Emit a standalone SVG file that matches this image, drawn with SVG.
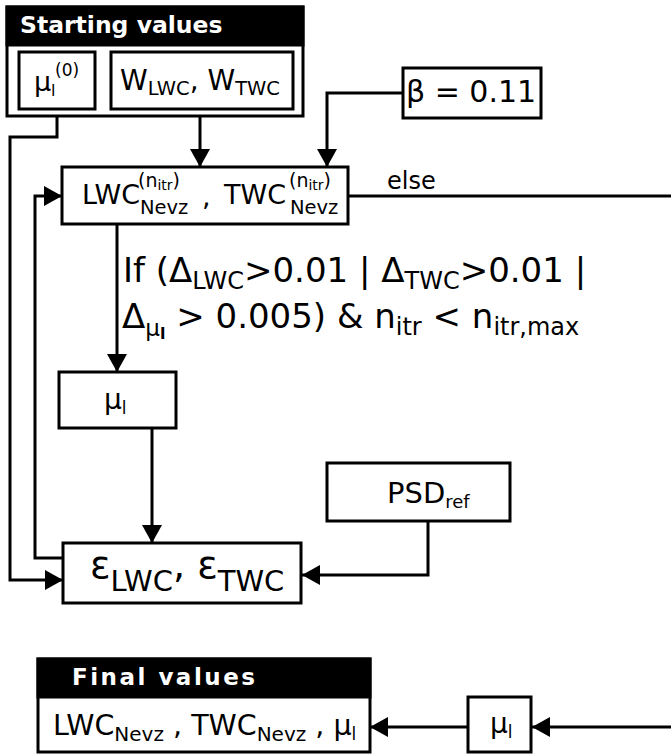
<svg xmlns="http://www.w3.org/2000/svg" width="671" height="755" viewBox="0 0 671 755">
<defs>
<style>
text{font-family:"DejaVu Sans","Liberation Sans",sans-serif;fill:#000}
.box{fill:#fff;stroke:#000;stroke-width:3}
.hdr{fill:#000;stroke:#000;stroke-width:3}
.ht{fill:#fff;font-weight:bold}
.ln{fill:none;stroke:#000;stroke-width:3}
</style>
<marker id="ah" markerUnits="userSpaceOnUse" markerWidth="18" markerHeight="20" refX="18" refY="10" orient="auto">
<path d="M0,0 L18,10 L0,20 z" fill="#000"/>
</marker>
</defs>
<rect width="671" height="755" fill="#fff"/>

<g id="connectors">
<path class="ln" d="M200,116 V167" marker-end="url(#ah)"/>
<path class="ln" d="M403,93 H327 V167" marker-end="url(#ah)"/>
<path class="ln" d="M117,224 V372" marker-end="url(#ah)"/>
<path class="ln" d="M152,428 V543" marker-end="url(#ah)"/>
<path class="ln" d="M428,521 V575 H302" marker-end="url(#ah)"/>
<path class="ln" d="M57,116 V137 H10 V580 H63" marker-end="url(#ah)"/>
<path class="ln" d="M63,558 H35 V196 H62" marker-end="url(#ah)"/>
<path class="ln" d="M348,196 H671"/>
<path class="ln" d="M671,727 H532" marker-end="url(#ah)"/>
<path class="ln" d="M468,727 H370" marker-end="url(#ah)"/>
<text x="387" y="189" font-size="24">else</text>
<text x="123" y="282" font-size="34">If (Δ<tspan font-size="24" dy="7">LWC</tspan><tspan dy="-7">&gt;0.01 | Δ</tspan><tspan font-size="24" dy="7">TWC</tspan><tspan dy="-7">&gt;0.01 |</tspan></text>
<text x="122" y="328" font-size="34">Δ<tspan font-size="23" dy="8">μ</tspan><tspan font-size="16" dy="3" font-weight="bold">l</tspan><tspan dy="-11"> &gt; 0.005) &amp; n</tspan><tspan font-size="24" dy="7">itr</tspan><tspan dy="-7"> &lt; n</tspan><tspan font-size="24" dy="7">itr,max</tspan></text>
</g>

<g id="starting-values">
<rect class="box" x="7" y="7" width="296" height="109"/>
<rect class="hdr" x="7" y="7" width="296" height="38"/>
<text class="ht" x="20" y="33" font-size="23.5">Starting values</text>
</g>
<g id="mu0">
<rect class="box" x="19" y="52" width="76" height="57"/>
<text x="34" y="91" font-size="27">μ</text>
<text x="51" y="96" font-size="16">l</text>
<text x="55" y="76" font-size="17">(0)</text>
</g>
<g id="weights">
<rect class="box" x="111" y="52" width="182" height="57"/>
<text x="120" y="90" font-size="28">W<tspan font-size="19.5" dy="5">LWC</tspan><tspan dy="-5">, W</tspan><tspan font-size="19.5" dy="5">TWC</tspan></text>
</g>
<g id="beta">
<rect class="box" x="403" y="68" width="138" height="50"/>
<text x="406" y="102" font-size="30">β = 0.11</text>
</g>
<g id="lwc-twc">
<rect class="box" x="62" y="167" width="286" height="57"/>
<text x="82" y="204" font-size="27">LWC</text>
<text x="138" y="187" font-size="19">(n<tspan font-size="14" dy="3">itr</tspan><tspan dy="-3">)</tspan></text>
<text x="140" y="214" font-size="19.5">Nevz</text>
<text x="202" y="206" font-size="27">,</text>
<text x="224" y="204" font-size="27">TWC</text>
<text x="289" y="187" font-size="19">(n<tspan font-size="14" dy="3">itr</tspan><tspan dy="-3">)</tspan></text>
<text x="290" y="214" font-size="19.5">Nevz</text>
</g>
<g id="mu-l">
<rect class="box" x="59" y="372" width="117" height="56"/>
<text x="104" y="409" font-size="28">μ<tspan font-size="17" dy="5">l</tspan></text>
</g>
<g id="psd">
<rect class="box" x="327" y="463" width="183" height="58"/>
<text x="387" y="503" font-size="29">PSD<tspan font-size="18" dy="5">ref</tspan></text>
</g>
<g id="epsilon">
<rect class="box" x="63" y="543" width="238" height="60"/>
<text x="90" y="578" font-size="38">ε<tspan font-size="29" dy="13">LWC</tspan><tspan font-size="38" dy="-13">, ε</tspan><tspan font-size="29" dy="13">TWC</tspan></text>
</g>
<g id="final-values">
<rect class="box" x="38" y="659" width="332" height="93"/>
<rect class="hdr" x="38" y="659" width="332" height="38"/>
<text class="ht" x="72" y="685" font-size="23" letter-spacing="2.5">Final values</text>
<text x="53" y="735" font-size="28.5">LWC<tspan font-size="20" dy="6">Nevz</tspan><tspan dy="-6"> , TWC</tspan><tspan font-size="20" dy="6">Nevz</tspan><tspan dy="-6"> , μ</tspan><tspan font-size="17" dy="5">l</tspan></text>
</g>
<g id="mu-final">
<rect class="box" x="468" y="697" width="63" height="55"/>
<text x="490" y="733" font-size="28">μ<tspan font-size="17" dy="5">l</tspan></text>
</g>
</svg>
